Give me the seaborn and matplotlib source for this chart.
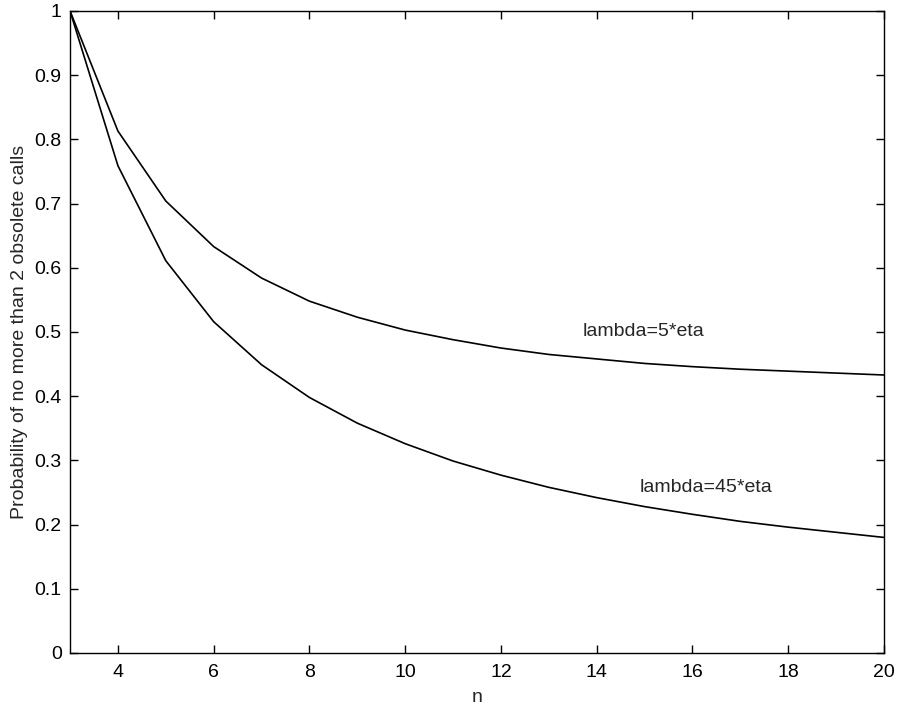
import matplotlib
matplotlib.use("Agg")
import matplotlib.pyplot as plt
import seaborn as sns
import pandas as pd

n_values = list(range(3, 21))
prob_lambda5 = [1.0, 0.813, 0.704, 0.633, 0.584, 0.548, 0.523, 0.503, 0.488, 0.475,
                0.465, 0.458, 0.451, 0.446, 0.442, 0.439, 0.436, 0.433]
prob_lambda45 = [1.0, 0.759, 0.611, 0.516, 0.449, 0.398, 0.358, 0.326, 0.299, 0.277,
                 0.258, 0.242, 0.228, 0.216, 0.205, 0.196, 0.188, 0.180]
series_labels = ["lambda=5*eta", "lambda=45*eta"]
x_ticks = [4, 6, 8, 10, 12, 14, 16, 18, 20]
y_ticks = [0, 0.1, 0.2, 0.3, 0.4, 0.5, 0.6, 0.7, 0.8, 0.9, 1]
y_tick_labels = ["0", "0.1", "0.2", "0.3", "0.4", "0.5", "0.6", "0.7", "0.8", "0.9", "1"]

df = pd.DataFrame({
    "n": n_values * 2,
    "p": prob_lambda5 + prob_lambda45,
    "series": [series_labels[0]] * len(n_values) + [series_labels[1]] * len(n_values),
})

sns.set_theme(style="ticks")
plt.rcParams["font.family"] = ["Liberation Sans", "DejaVu Sans"]

fig = plt.figure(figsize=(8.99, 7.08), dpi=100)
ax = fig.add_axes([0.0779, 0.0777, 0.9054, 0.9068])
sns.lineplot(data=df, x="n", y="p", hue="series", palette=["black", "black"],
             linewidth=1.2, legend=False, ax=ax)

ax.set_xlim(3, 20)
ax.set_ylim(0, 1)
ax.set_xticks(x_ticks)
ax.set_xticklabels([str(t) for t in x_ticks])
ax.set_yticks(y_ticks)
ax.set_yticklabels(y_tick_labels)
ax.tick_params(direction="in", top=True, right=True, length=6, width=1,
               labelsize=14, colors="black", pad=6)
ax.tick_params(axis="x", pad=8)
for s in ax.spines.values():
    s.set_visible(True)
    s.set_color("black")
    s.set_linewidth(1)
ax.set_xlabel("n", fontsize=14, labelpad=6)
ax.set_ylabel("Probability of no more than 2 obsolete calls", fontsize=14, labelpad=5)

ax.text(13.7, 0.5, series_labels[0], fontsize=14, va="center", ha="left")
ax.text(14.89, 0.257, series_labels[1], fontsize=14, va="center", ha="left")

fig.savefig("out.png", dpi=100)
